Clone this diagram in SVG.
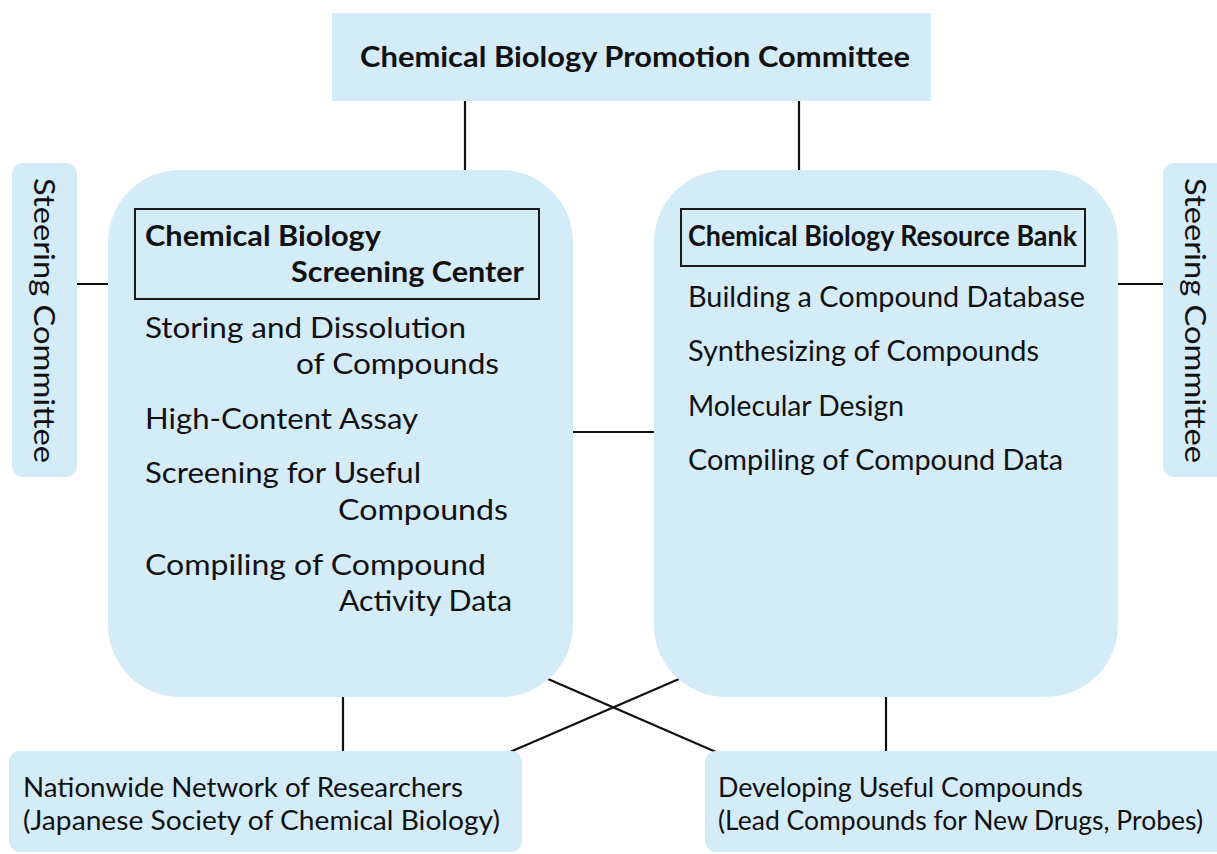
<svg xmlns="http://www.w3.org/2000/svg" width="1217" height="854" viewBox="0 0 1217 854">
<style>
.box{fill:#d4ebf8;stroke:none}
.frame{fill:none;stroke:#1a1a1a;stroke-width:2}
.ln{stroke:#111;stroke-width:2.2;fill:none}
text{font-family:"Lato","Liberation Sans",sans-serif;fill:#111}
.t{font-size:29px}
.b{font-size:29px;font-weight:bold}
.s{font-size:26px}
</style>
<rect width="1217" height="854" fill="#fff"/>
<g id="connectors">
<line class="ln" x1="465" y1="101" x2="465" y2="172"/>
<line class="ln" x1="799" y1="101" x2="799" y2="172"/>
<line class="ln" x1="77" y1="284" x2="110" y2="284"/>
<line class="ln" x1="1116" y1="284" x2="1163" y2="284"/>
<line class="ln" x1="571" y1="432" x2="656" y2="432"/>
<line class="ln" x1="343" y1="695" x2="343" y2="752"/>
<line class="ln" x1="886" y1="695" x2="886" y2="752"/>
<line class="ln" x1="548" y1="679" x2="716" y2="752"/>
<line class="ln" x1="679" y1="679" x2="510" y2="752"/>
</g>
<g id="promotion-committee">
<rect class="box" x="332" y="13" width="599" height="88"/>
<text class="b" x="360" y="67" textLength="550" lengthAdjust="spacingAndGlyphs">Chemical Biology Promotion Committee</text>
</g>
<g id="steering-left">
<rect class="box" x="12" y="163" width="65" height="314" rx="11"/>
<text class="t" transform="translate(34,178) rotate(90)" textLength="285" lengthAdjust="spacingAndGlyphs">Steering Committee</text>
</g>
<g id="steering-right">
<rect class="box" x="1163" y="163" width="70" height="314" rx="11"/>
<text class="t" transform="translate(1185,178) rotate(90)" textLength="285" lengthAdjust="spacingAndGlyphs">Steering Committee</text>
</g>
<g id="screening-center">
<rect class="box" x="108" y="170" width="465" height="527" rx="72"/>
<rect class="frame" x="135" y="209" width="404" height="90"/>
<text class="b" x="145" y="246" textLength="236" lengthAdjust="spacingAndGlyphs">Chemical Biology</text>
<text class="b" x="291" y="282" textLength="233" lengthAdjust="spacingAndGlyphs">Screening Center</text>
<text class="t" x="145" y="338" textLength="321" lengthAdjust="spacingAndGlyphs">Storing and Dissolution</text>
<text class="t" x="296" y="374" textLength="203" lengthAdjust="spacingAndGlyphs">of Compounds</text>
<text class="t" x="145" y="429" textLength="273" lengthAdjust="spacingAndGlyphs">High-Content Assay</text>
<text class="t" x="145" y="483" textLength="276" lengthAdjust="spacingAndGlyphs">Screening for Useful</text>
<text class="t" x="338" y="520" textLength="170" lengthAdjust="spacingAndGlyphs">Compounds</text>
<text class="t" x="145" y="575" textLength="341" lengthAdjust="spacingAndGlyphs">Compiling of Compound</text>
<text class="t" x="339" y="611" textLength="173" lengthAdjust="spacingAndGlyphs">Activity Data</text>
</g>
<g id="resource-bank">
<rect class="box" x="654" y="170" width="464" height="527" rx="72"/>
<rect class="frame" x="681" y="209" width="404" height="57"/>
<text class="b" x="688" y="246" textLength="389" lengthAdjust="spacingAndGlyphs">Chemical Biology Resource Bank</text>
<text class="t" x="688" y="307" textLength="397" lengthAdjust="spacingAndGlyphs">Building a Compound Database</text>
<text class="t" x="688" y="361" textLength="351" lengthAdjust="spacingAndGlyphs">Synthesizing of Compounds</text>
<text class="t" x="688" y="416" textLength="216" lengthAdjust="spacingAndGlyphs">Molecular Design</text>
<text class="t" x="688" y="470" textLength="375" lengthAdjust="spacingAndGlyphs">Compiling of Compound Data</text>
</g>
<g id="researchers-network">
<rect class="box" x="9" y="751" width="513" height="101" rx="11"/>
<text class="s" x="23" y="797" textLength="440" lengthAdjust="spacingAndGlyphs">Nationwide Network of Researchers</text>
<text class="s" x="23" y="830" textLength="477" lengthAdjust="spacingAndGlyphs">(Japanese Society of Chemical Biology)</text>
</g>
<g id="useful-compounds">
<rect class="box" x="705" y="751" width="530" height="101" rx="11"/>
<text class="s" x="718" y="797" textLength="365" lengthAdjust="spacingAndGlyphs">Developing Useful Compounds</text>
<text class="s" x="718" y="830" textLength="485" lengthAdjust="spacingAndGlyphs">(Lead Compounds for New Drugs, Probes)</text>
</g>
</svg>
